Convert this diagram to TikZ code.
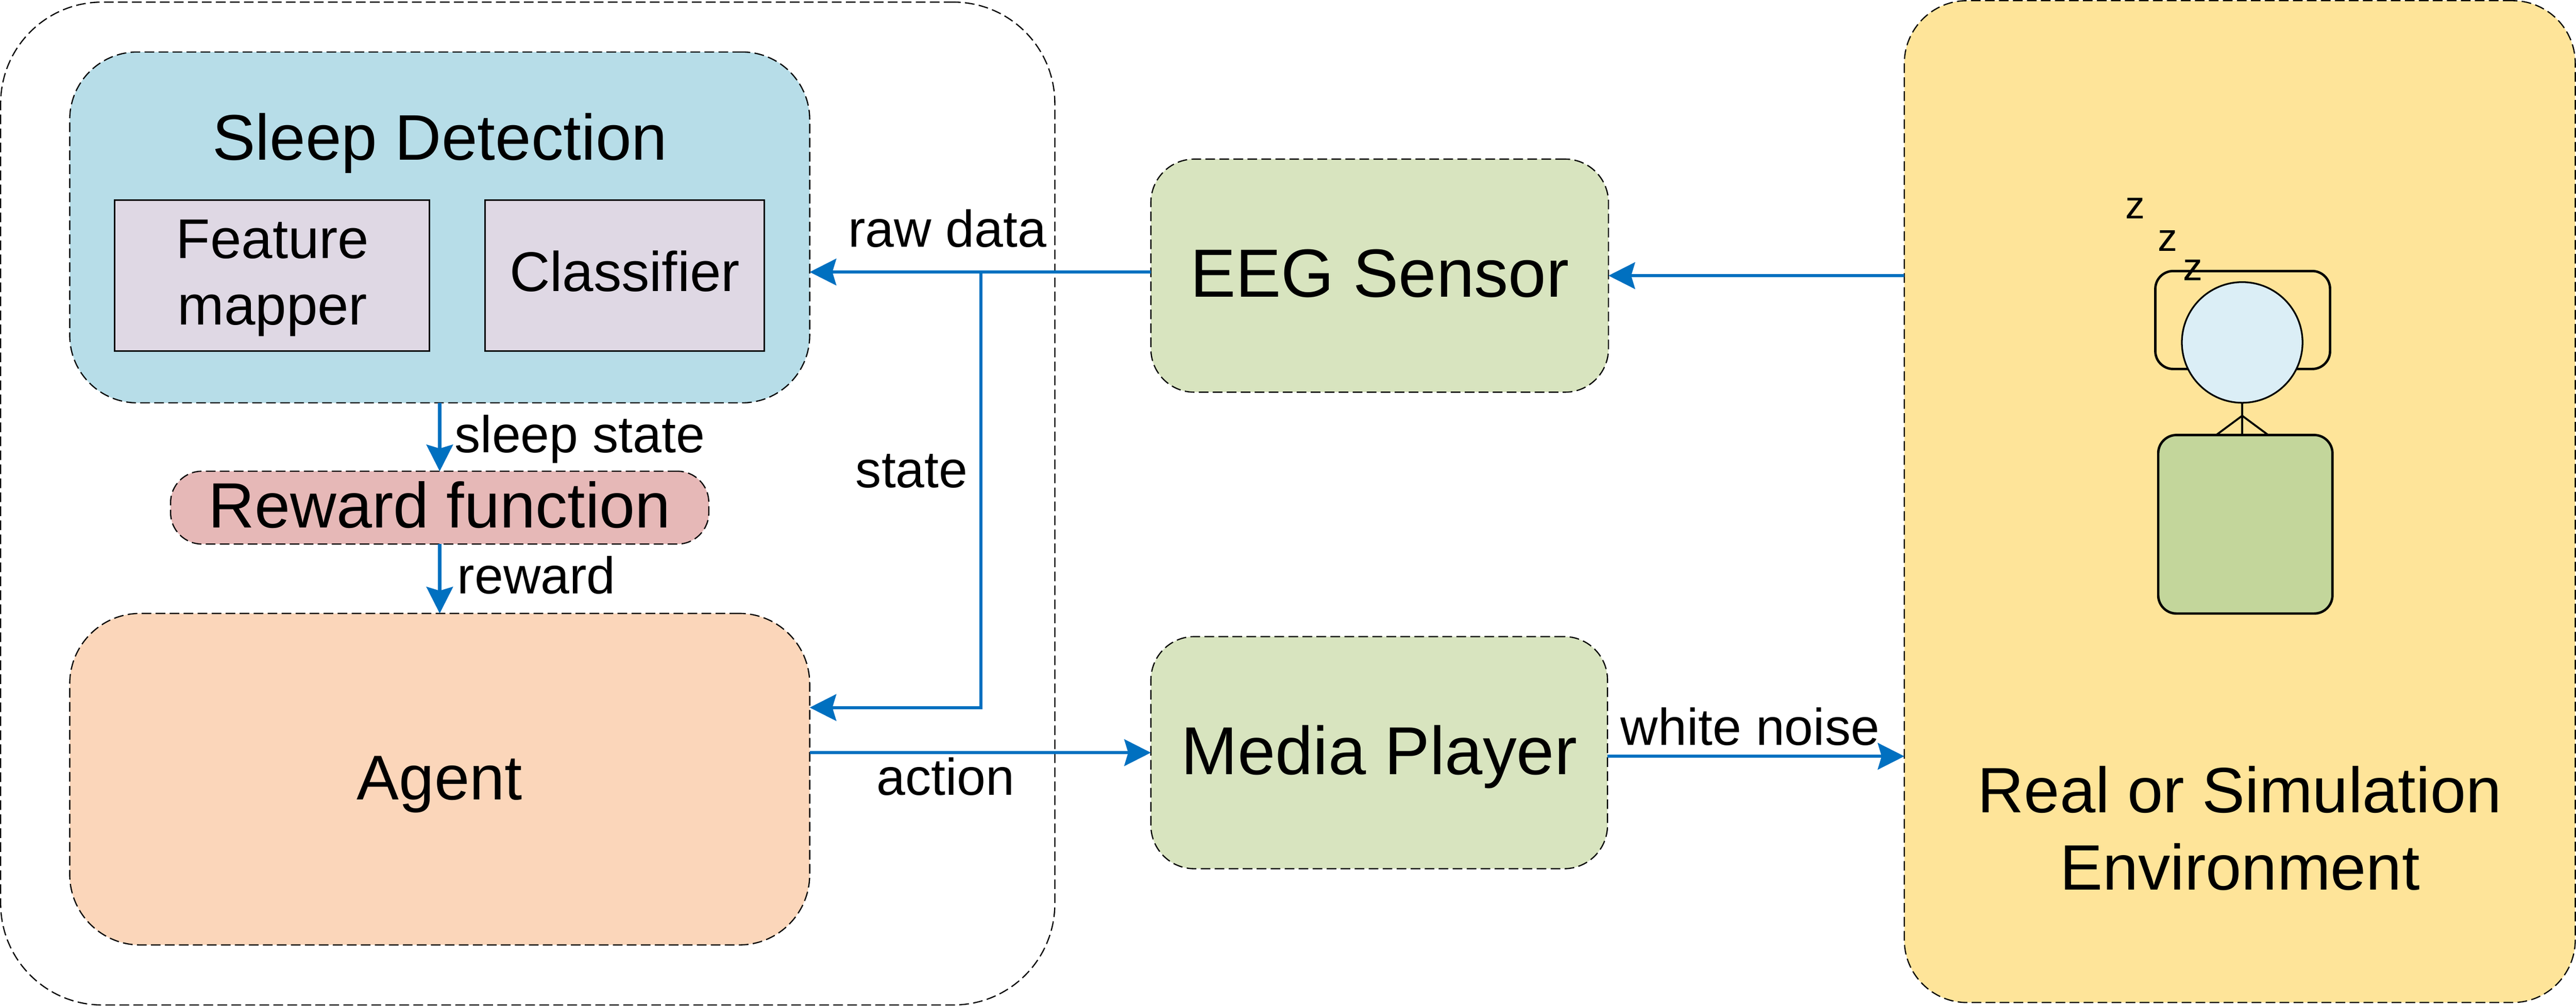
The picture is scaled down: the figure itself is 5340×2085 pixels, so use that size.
\documentclass[tikz,border=0pt]{standalone}
\usepackage{fontspec}
\setmainfont{Liberation Sans}
\usetikzlibrary{arrows.meta}

\definecolor{sleepblue}{HTML}{B7DDE8}
\definecolor{blockgray}{HTML}{DFD8E4}
\definecolor{rewardred}{HTML}{E6B8B7}
\definecolor{agentpeach}{HTML}{FBD6BA}
\definecolor{ioGreen}{HTML}{D8E4BF}
\definecolor{envyellow}{HTML}{FEE499}
\definecolor{bodygreen}{HTML}{C3D69B}
\definecolor{headblue}{HTML}{DBEEF6}
\definecolor{flowblue}{HTML}{0070C0}

\tikzset{
    dashbox/.style={draw=black,line width=.025cm,dash pattern=on .2cm off .09cm,inner sep=0pt,outer sep=0pt},
    block/.style={draw=black,fill=blockgray,line width=.035cm,inner sep=0pt,outer sep=0pt,align=center,font=\fontsize{33}{39.5}\selectfont},
    figure/.style={draw=black,line width=.05cm,inner sep=0pt,outer sep=0pt},
    flow/.style={draw=flowblue,line width=.065cm,-{Stealth[length=.55cm,width=.55cm,inset=.08cm]}},
    tag/.style={anchor=base,inner sep=0pt,font=\fontsize{30.5}{36}\selectfont},
    snore/.style={anchor=base,inner sep=0pt,font=\fontsize{23}{27}\selectfont},
}

\begin{document}
\begin{tikzpicture}[x=.01cm,y=-.01cm]

    \useasboundingbox (0,0) rectangle (5340,2085);

    \node[dashbox,rounded corners=2.1cm,minimum width=21.84cm,minimum height=20.78cm] (learner) at (1094,1044) {};

    % sleep detection
    \node[dashbox,fill=sleepblue,rounded corners=1.4cm,minimum width=15.33cm,minimum height=7.27cm] (sleep) at (911.5,471.5) {};
    \node[anchor=base,inner sep=0pt,font=\fontsize{38}{44}\selectfont] (sleeptitle) at (912,332) {Sleep Detection};
    \node[block,minimum width=6.52cm,minimum height=3.13cm] (feature) at (564,571.5) {};
    \node[anchor=base,inner sep=0pt,align=center,font=\fontsize{33}{39}\selectfont] (featuretext) at (565,673) {Feature\\mapper};
    \node[block,minimum width=5.78cm,minimum height=3.13cm,text height=.65cm,text depth=0pt] (classifier) at (1295,571.5) {Classifier};

    \node[dashbox,fill=rewardred,rounded corners=.65cm,minimum width=11.15cm,minimum height=1.51cm,font=\fontsize{37.7}{43}\selectfont,text height=.83cm,text depth=0pt] (reward) at (911.5,1052.5) {Reward function};
    \node[dashbox,fill=agentpeach,rounded corners=1.46cm,minimum width=15.33cm,minimum height=6.87cm,font=\fontsize{37.3}{43}\selectfont,text height=.85cm,text depth=0pt] (agent) at (911.5,1615.5) {Agent};

    \node[dashbox,fill=ioGreen,rounded corners=.9cm,minimum width=9.48cm,minimum height=4.83cm,font=\fontsize{40.2}{46}\selectfont,text height=.89cm,text depth=0pt] (eeg) at (2860,571.5) {EEG Sensor};
    \node[dashbox,fill=ioGreen,rounded corners=.9cm,minimum width=9.46cm,minimum height=4.81cm,font=\fontsize{40}{46}\selectfont,text height=.91cm,text depth=0pt] (media) at (2859,1560.5) {Media Player};

    % environment
    \node[dashbox,fill=envyellow,rounded corners=1.3cm,minimum width=13.9cm,minimum height=20.76cm] (env) at (4643,1040) {};
    \node[anchor=base,inner sep=0pt,font=\fontsize{37.8}{44}\selectfont] (envline) at (4643,1685) {Real or Simulation};
    \node[anchor=base,inner sep=0pt,font=\fontsize{37.8}{44}\selectfont] (envname) at (4643,1845) {Environment};

    % sleeper
    \node[figure,rounded corners=.37cm,minimum width=3.62cm,minimum height=2.03cm] (pillow) at (4649,663.5) {};
    \node[figure,fill=headblue,circle,line width=.035cm,minimum size=2.5cm] (head) at (4648,710) {};
    \coordinate (shoulder) at (4648,862);
    \coordinate (armleft) at (4594,902);
    \coordinate (armright) at (4702,902);
    \draw[line width=.035cm] (head.south) -- (head.south |- armleft);
    \draw[line width=.04cm] (armleft) -- (shoulder) -- (armright);
    \node[figure,fill=bodygreen,rounded corners=.38cm,minimum width=3.61cm,minimum height=3.7cm] (torso) at (4654.5,1087) {};

    \node[snore] (zone) at (4426,453) {z};
    \node[snore] (ztwo) at (4493,521) {z};
    \node[snore] (zthree) at (4546,582) {z};

    \coordinate (rawin) at (2386,564);
    \coordinate (rawsplit) at (2033,564);
    \coordinate (statecorner) at (2033,1467);
    \coordinate (noise) at (3332,1568);

    \draw[flow] (rawin) -- (sleep.east |- rawin);
    \draw[flow] (rawsplit) -- (statecorner) -- (agent.east |- statecorner);
    \draw[flow] (sleep.south) -- (reward.north);
    \draw[flow] (reward.south) -- (agent.north);
    \draw[flow] (agent.east |- media.west) -- (media.west);
    \draw[flow] (noise) -- (env.west |- noise);
    \draw[flow] (env.west |- eeg.east) -- (eeg.east);

    \node[tag] (rawtag) at (1964,512) {raw data};
    \node[tag] (sleeptag) at (1202,938) {sleep state};
    \node[tag] (statetag) at (1890,1011) {state};
    \node[tag] (rewardtag) at (1112,1231) {reward};
    \node[tag] (actiontag) at (1960,1648) {action};
    \node[tag] (noisetag) at (3628,1545) {white noise};

\end{tikzpicture}
\end{document}
